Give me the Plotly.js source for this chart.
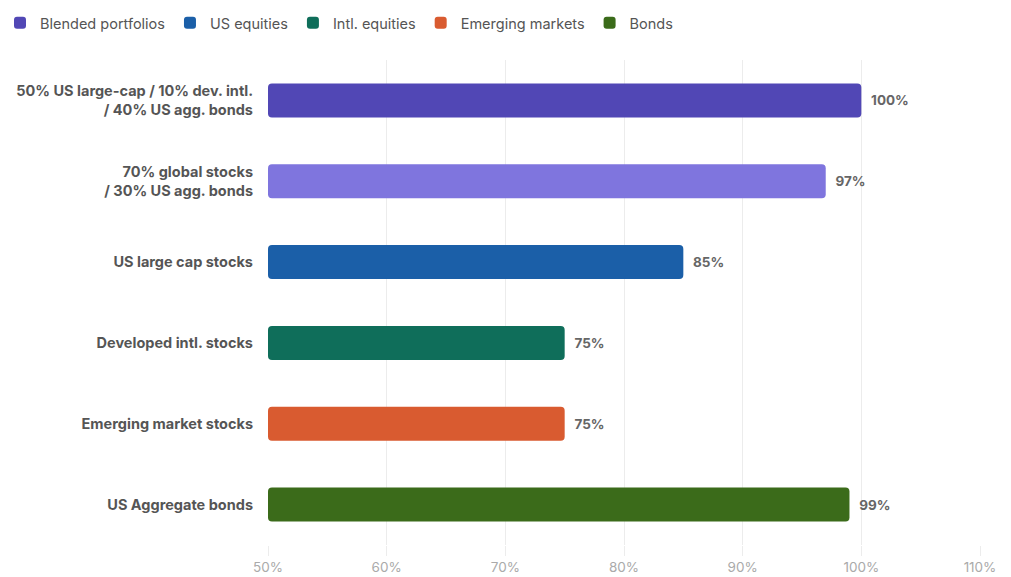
<!DOCTYPE html>
<html>
<head>
<meta charset="utf-8">
<script src="https://cdn.plot.ly/plotly-3.0.1.min.js"></script>
<style>html,body{margin:0;padding:0;background:#fff;}#chart{width:1011px;height:577px;}</style>
</head>
<body>
<div id="chart"></div>
<script>
const blendedLabels = ["50% US large-cap / 10% dev. intl.<br>/ 40% US agg. bonds", "70% global stocks<br>/ 30% US agg. bonds"];
const blendedValues = [100, 97];
const usLabels = ["US large cap stocks"];
const usValues = [85];
const intlLabels = ["Developed intl. stocks"];
const intlValues = [75];
const emLabels = ["Emerging market stocks"];
const emValues = [75];
const bondLabels = ["US Aggregate bonds"];
const bondValues = [99];
const categoryOrder = blendedLabels.concat(usLabels, intlLabels, emLabels, bondLabels);
const xTickVals = [50, 60, 70, 80, 90, 100, 110];
const xTickText = ["50%", "60%", "70%", "80%", "90%", "100%", "110%"];

function mk(name, labels, values, color) {
  return {
    type: "bar", orientation: "h", name: name,
    y: labels, x: values.map(v => v - 50), base: 50,
    marker: {color: color, cornerradius: 4},
    width: 0.42,
    text: values.map(v => "\u2002" + v + "%"), textposition: "outside",
    textfont: {family: "Inter, 'Open Sans', sans-serif", size: 13.5, color: "#666", weight: 700},
    cliponaxis: false,
    hoverinfo: "skip"
  };
}
const data = [
  mk("Blended portfolios", blendedLabels, blendedValues, ["#5147b5", "#7f75de"]),
  mk("US equities", usLabels, usValues, "#1b5fa8"),
  mk("Intl. equities", intlLabels, intlValues, "#0f6e5a"),
  mk("Emerging markets", emLabels, emValues, "#d95b30"),
  mk("Bonds", bondLabels, bondValues, "#3b6b1a")
];

const layout = {
  width: 1011, height: 577,
  margin: {l: 268, r: 31, t: 60, b: 32},
  paper_bgcolor: "#fff", plot_bgcolor: "#fff",
  barmode: "overlay",
  font: {family: "Inter, 'Open Sans', sans-serif", color: "#555"},
  showlegend: true,
  legend: {orientation: "h", xref: "container", yref: "container", x: -0.006, y: 0.988, xanchor: "left", yanchor: "top",
           font: {size: 14.5, color: "#555"}, itemwidth: 30, traceorder: "normal"},
  xaxis: {range: [50, 110], tickvals: xTickVals, ticktext: xTickText, showgrid: true, gridcolor: "#ececec",
          zeroline: false, ticks: "outside", ticklen: 10, tickcolor: "#ececec",
          tickfont: {size: 13.5, color: "#aaa"}, showline: false, fixedrange: true},
  yaxis: {categoryorder: "array", categoryarray: categoryOrder, autorange: "reversed", showgrid: false,
          zeroline: false, ticks: "", ticklabelstandoff: 14,
          tickfont: {size: 14.5, color: "#555", weight: 700}}
};
Plotly.newPlot("chart", data, layout, {displayModeBar: false, staticPlot: true});
</script>
</body>
</html>
